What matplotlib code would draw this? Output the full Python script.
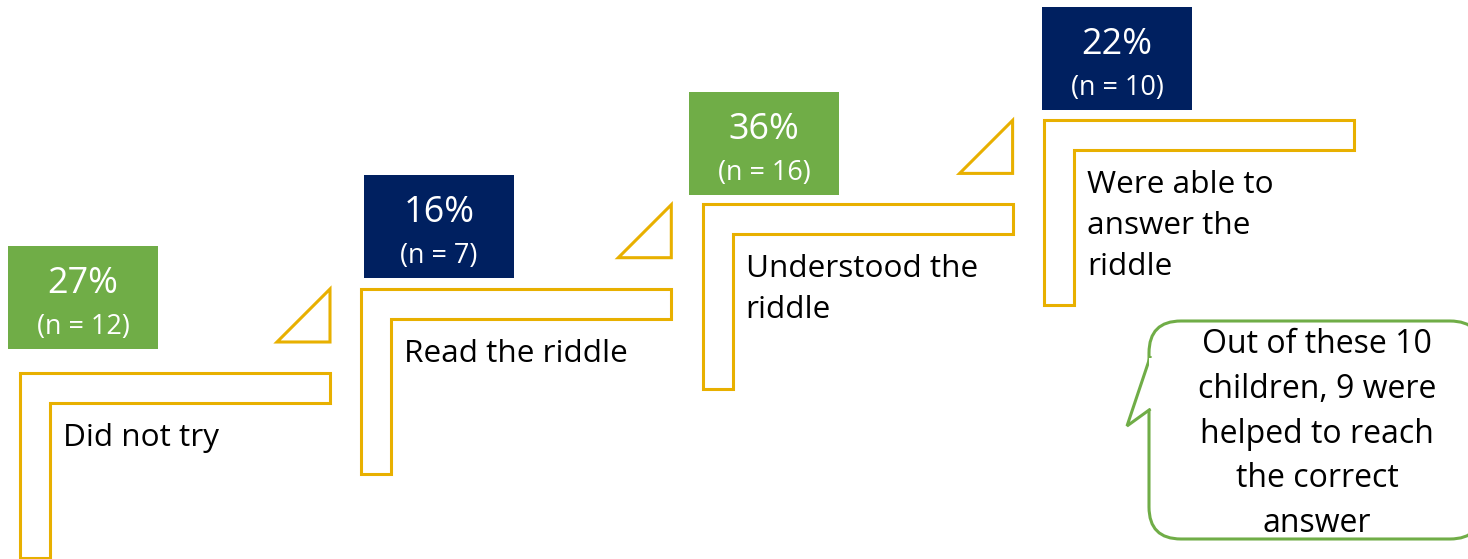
import matplotlib
matplotlib.use("Agg")
import matplotlib.pyplot as plt
from matplotlib.patches import Polygon, Rectangle, FancyBboxPatch

# ---- data ----
labels = ["Did not try", "Read the riddle", "Understood the\nriddle", "Were able to\nanswer the\nriddle"]
percents = [27, 16, 36, 22]
counts = [12, 7, 16, 10]
box_colors = ["#70AD47", "#002060", "#70AD47", "#002060"]
note_text = "Out of these 10\nchildren, 9 were\nhelped to reach\nthe correct\nanswer"

GOLD = "#E8B000"
GREEN = "#70AD47"
FONT = ["Open Sans", "DejaVu Sans"]

W, H = 1468, 559
fig = plt.figure(figsize=(W / 100, H / 100), dpi=100)
ax = fig.add_axes([0, 0, 1, 1])
ax.set_xlim(0, W)
ax.set_ylim(H, 0)
ax.axis("off")

def px(p):  # pixel size -> points
    return p * 0.72

# layout
step_dx, step_dy = 341.3, 84.3
x0, y0 = 20, 373
bar_len, thick, leg = 310, 30, 185
box_x = [8, 364, 689, 1042]
box_top = [246, 175, 92, 7]
bw, bh = 150, 103

for i, (lab, pc, n, col) in enumerate(zip(labels, percents, counts, box_colors)):
    lx = x0 + i * step_dx
    ty = y0 - i * step_dy
    # L-shaped step outline
    pts = [(lx, ty), (lx + bar_len, ty), (lx + bar_len, ty + thick),
           (lx + thick, ty + thick), (lx + thick, ty + leg), (lx, ty + leg)]
    ax.add_patch(Polygon(pts, closed=True, fill=False, edgecolor=GOLD, lw=2.2, joinstyle="miter"))
    # triangle connector
    if i < len(labels) - 1:
        tx = lx + bar_len
        tb = ty - 31
        ax.add_patch(Polygon([(tx - 53, tb), (tx, tb - 53), (tx, tb)], closed=True,
                             fill=False, edgecolor=GOLD, lw=2.2, joinstyle="miter"))
    # value box
    bx, by = box_x[i], box_top[i]
    ax.add_patch(Rectangle((bx, by), bw, bh, facecolor=col, edgecolor="none"))
    ax.text(bx + bw / 2, by + 47, f"{pc}%", color="white", ha="center", va="baseline",
            fontsize=px(36), family=FONT)
    ax.text(bx + bw / 2, by + 88, f"(n = {n})", color="white", ha="center", va="baseline",
            fontsize=px(27), family=FONT)
    # label lines
    for k, line in enumerate(lab.split("\n")):
        ax.text(lx + thick + 13, ty + thick + 43 + k * 41, line, ha="left", va="baseline",
                color="black", fontsize=px(31.5), family=FONT)

# speech bubble
bub = FancyBboxPatch((1149, 321), 333, 218, boxstyle="round,pad=0,rounding_size=32",
                     facecolor="white", edgecolor=GREEN, lw=2.2)
ax.add_patch(bub)
ax.add_patch(Polygon([(1150.5, 356), (1127, 426), (1150.5, 409)], closed=False,
                     facecolor="white", edgecolor=GREEN, lw=2.2, joinstyle="miter"))
ax.add_patch(Rectangle((1148.5, 358), 4, 50, facecolor="white", edgecolor="none"))
for k, line in enumerate(note_text.split("\n")):
    ax.text(1317, 353 + k * 44.8, line, ha="center", va="baseline", fontsize=px(32),
            family=FONT, color="black")

fig.savefig("out.png", dpi=100)
